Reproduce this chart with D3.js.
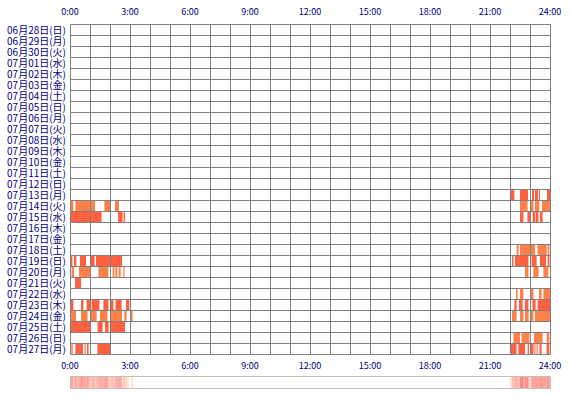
<!DOCTYPE html>
<html lang="ja">
<head>
<meta charset="utf-8">
<title>Activity</title>
<script src="https://cdn.jsdelivr.net/npm/d3@7"></script>
<style>
  body { margin: 0; background: #fff; }
  text { font-family: "Noto Sans CJK JP", sans-serif; fill: #000080; }
</style>
</head>
<body>
<script>
// row labels
var days = ["06月28日(日)", "06月29日(月)", "06月30日(火)", "07月01日(水)", "07月02日(木)",
  "07月03日(金)", "07月04日(土)", "07月05日(日)", "07月06日(月)", "07月07日(火)",
  "07月08日(水)", "07月09日(木)", "07月10日(金)", "07月11日(土)", "07月12日(日)",
  "07月13日(月)", "07月14日(火)", "07月15日(水)", "07月16日(木)", "07月17日(金)",
  "07月18日(土)", "07月19日(日)", "07月20日(月)", "07月21日(火)", "07月22日(水)",
  "07月23日(木)", "07月24日(金)", "07月25日(土)", "07月26日(日)", "07月27日(月)"];

var hourTicks = [0, 3, 6, 9, 12, 15, 18, 21, 24];

// [day index, start hour, end hour]
var sessions = [
  [15, 22.0, 22.22], [15, 22.5, 22.9], [15, 23.1, 23.2], [15, 23.25, 23.4], [15, 23.45, 23.5], [15, 23.85, 24],
  [16, 0.05, 0.17], [16, 0.27, 1.25], [16, 1.72, 2.03], [16, 2.25, 2.45],
  [16, 22.5, 22.88], [16, 23.05, 23.17], [16, 23.25, 23.47], [16, 23.6, 24],
  [17, 0.05, 1.58], [17, 2.4, 2.63], [17, 2.68, 2.75],
  [17, 22.5, 22.67], [17, 22.87, 23.0], [17, 23.13, 23.25], [17, 23.28, 23.42], [17, 23.5, 23.63],
  [20, 22.33, 22.43], [20, 22.5, 23.0], [20, 23.05, 23.25], [20, 23.38, 23.83], [20, 23.88, 23.97],
  [21, 0.05, 0.12], [21, 0.2, 0.32], [21, 0.5, 0.8], [21, 1.03, 1.23], [21, 1.3, 2.6],
  [21, 22.1, 22.17], [21, 22.25, 22.92], [21, 23.08, 23.33], [21, 23.5, 23.8], [21, 23.88, 23.97],
  [22, 0.08, 0.2], [22, 0.45, 1.0], [22, 1.42, 1.92], [22, 2.13, 2.22], [22, 2.27, 2.37], [22, 2.43, 2.53], [22, 2.67, 2.73],
  [22, 22.75, 22.92], [22, 23.0, 23.05], [22, 23.17, 23.43], [22, 23.67, 23.92],
  [23, 0.25, 0.55],
  [24, 22.3, 22.38], [24, 22.5, 22.67], [24, 23.03, 23.17], [24, 23.45, 23.58], [24, 23.67, 24],
  [25, 0.05, 0.17], [25, 0.55, 0.67], [25, 0.83, 1.0], [25, 1.08, 1.47], [25, 1.67, 1.92], [25, 2.05, 2.17], [25, 2.28, 2.58], [25, 2.8, 2.97],
  [25, 22.22, 22.33], [25, 22.45, 22.63], [25, 22.75, 22.92], [25, 23.12, 23.28], [25, 23.38, 24],
  [26, 0.05, 0.3], [26, 0.55, 0.88], [26, 1.05, 1.33], [26, 1.5, 1.87], [26, 2.05, 2.6], [26, 2.72, 2.83], [26, 3.03, 3.13],
  [26, 22.1, 22.33], [26, 22.5, 22.67], [26, 22.75, 22.93], [26, 23.03, 23.17], [26, 23.25, 24],
  [27, 0.05, 1.0], [27, 1.38, 1.63], [27, 1.75, 1.93], [27, 2.05, 2.75],
  [28, 22.17, 22.5], [28, 22.58, 22.97], [28, 23.2, 23.63], [28, 23.83, 23.97],
  [29, 0.07, 0.13], [29, 0.27, 0.65], [29, 0.73, 0.78], [29, 0.85, 0.93], [29, 1.37, 2.02],
  [29, 22.05, 22.33], [29, 22.42, 22.75], [29, 22.88, 22.95], [29, 23.03, 23.17], [29, 23.22, 23.27], [29, 23.33, 23.38], [29, 23.47, 23.58], [29, 23.83, 23.97]
];

var w = 570, h = 400;
var plotLeft = 70, plotRight = 550, plotTop = 24, rowH = 11;

var svg = d3.select("body").append("svg")
  .attr("width", w)
  .attr("height", h);

var x = d3.scaleLinear().domain([0, 24]).range([plotLeft, plotRight]);
var y = d3.scaleBand().domain(d3.range(days.length))
  .range([plotTop, plotTop + rowH * days.length]);

function fmt(d) { return d + ":00"; }

// bars
svg.append("g").selectAll("rect")
  .data(sessions)
  .enter()
  .append("rect")
  .attr("x", function(d) { return x(d[1]); })
  .attr("y", function(d) { return y(d[0]) + 0.5; })
  .attr("width", function(d) { return x(d[2]) - x(d[1]); })
  .attr("height", rowH)
  .attr("fill", function(d) {
    var n = parseInt(days[d[0]].slice(3, 5), 10);
    return n % 2 ? "#ff6040" : "#ff8048";
  });

// grid
var grid = svg.append("g").attr("stroke", "#808080").attr("stroke-width", 1);
grid.selectAll("line.v")
  .data(d3.range(0, 25))
  .enter()
  .append("line")
  .attr("class", "v")
  .attr("x1", function(d) { return x(d) + 0.5; })
  .attr("x2", function(d) { return x(d) + 0.5; })
  .attr("y1", plotTop + 0.5)
  .attr("y2", plotTop + rowH * days.length + 0.5);
grid.selectAll("line.h")
  .data(d3.range(0, days.length + 1))
  .enter()
  .append("line")
  .attr("class", "h")
  .attr("x1", plotLeft + 0.5)
  .attr("x2", plotRight + 0.5)
  .attr("y1", function(d) { return plotTop + d * rowH + 0.5; })
  .attr("y2", function(d) { return plotTop + d * rowH + 0.5; });

// row labels
svg.append("g").selectAll("text")
  .data(days)
  .enter()
  .append("text")
  .attr("x", 66)
  .attr("y", function(d, i) { return y(i) + rowH / 2 + 4; })
  .attr("text-anchor", "end")
  .attr("font-size", "10px")
  .text(function(d) { return d; });

// hour labels top and bottom
[15, 369].forEach(function(ty) {
  svg.append("g").selectAll("text")
    .data(hourTicks)
    .enter()
    .append("text")
    .attr("x", function(d) { return x(d); })
    .attr("y", ty)
    .attr("text-anchor", "middle")
    .attr("font-size", "9px")
    .text(fmt);
});

// density strip
var cols = d3.range(plotLeft, plotRight);
var counts = cols.map(function(px) {
  var t = x.invert(px + 0.5);
  return sessions.filter(function(s) { return s[1] <= t && t < s[2]; }).length;
});
var maxC = d3.max(counts);
var heat = d3.scaleLinear().domain([0, 1, maxC]).range(["#ffffff", "#ffe2d2", "#ff8080"]);

svg.append("g").selectAll("rect")
  .data(cols)
  .enter()
  .append("rect")
  .attr("x", function(d) { return d; })
  .attr("y", 376)
  .attr("width", 1)
  .attr("height", 12)
  .attr("fill", function(d, i) { return heat(counts[i]); });

svg.append("rect")
  .attr("x", plotLeft + 0.5)
  .attr("y", 376.5)
  .attr("width", plotRight - plotLeft)
  .attr("height", 12)
  .attr("fill", "none")
  .attr("stroke", "#c0c0c0");
</script>
</body>
</html>
